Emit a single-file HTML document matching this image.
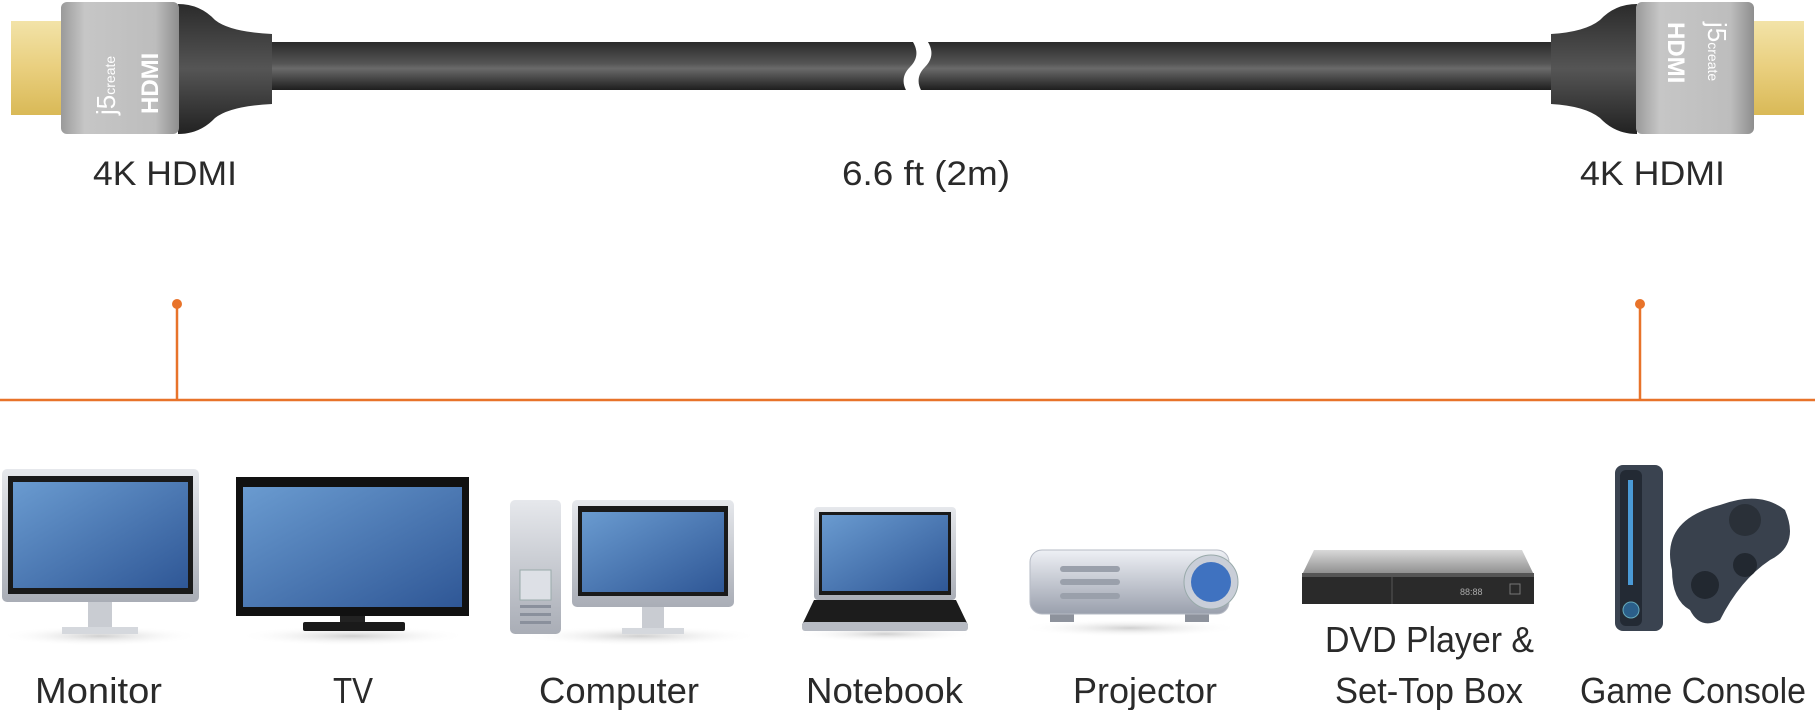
<!DOCTYPE html>
<html><head><meta charset="utf-8"><style>
html,body{margin:0;padding:0;background:#fff;}
svg{display:block;}
text{font-family:"Liberation Sans",sans-serif;fill:#2a2a2a;}
</style></head><body>
<svg width="1815" height="710" viewBox="0 0 1815 710" xmlns="http://www.w3.org/2000/svg">
<defs>
<linearGradient id="cab" x1="0" y1="0" x2="0" y2="1"><stop offset="0" stop-color="#2a2a2a"/><stop offset="0.45" stop-color="#555"/><stop offset="0.55" stop-color="#6a6a6a"/><stop offset="1" stop-color="#1e1e1e"/></linearGradient>
<linearGradient id="gold" x1="0" y1="0" x2="0" y2="1"><stop offset="0" stop-color="#f2e3a8"/><stop offset="0.5" stop-color="#e9cf7e"/><stop offset="1" stop-color="#d9b957"/></linearGradient>
<linearGradient id="silv" x1="0" y1="0" x2="1" y2="0"><stop offset="0" stop-color="#9a9a9a"/><stop offset="0.2" stop-color="#c6c6c6"/><stop offset="0.8" stop-color="#bdbdbd"/><stop offset="1" stop-color="#8e8e8e"/></linearGradient>
<linearGradient id="boot" x1="0" y1="0" x2="0" y2="1"><stop offset="0" stop-color="#2b2b2b"/><stop offset="0.5" stop-color="#555"/><stop offset="1" stop-color="#222"/></linearGradient>
<linearGradient id="scr" x1="0" y1="0" x2="1" y2="1"><stop offset="0" stop-color="#6a9bd0"/><stop offset="1" stop-color="#2f5796"/></linearGradient>
<linearGradient id="frame" x1="0" y1="0" x2="0" y2="1"><stop offset="0" stop-color="#e6e8ec"/><stop offset="1" stop-color="#a9adb6"/></linearGradient>
<linearGradient id="proj" x1="0" y1="0" x2="0" y2="1"><stop offset="0" stop-color="#eef0f5"/><stop offset="1" stop-color="#9aa0ad"/></linearGradient>
<linearGradient id="dvdtop" x1="0" y1="0" x2="0" y2="1"><stop offset="0" stop-color="#d9d9d9"/><stop offset="1" stop-color="#8a8a8a"/></linearGradient>
<radialGradient id="sh"><stop offset="0" stop-color="#bbb" stop-opacity="0.7"/><stop offset="1" stop-color="#fff" stop-opacity="0"/></radialGradient>
</defs>

<rect x="265" y="42" width="1300" height="48" fill="url(#cab)"/>
<path d="M905 32 Q925 52 910 67 Q895 82 915 102 L930 102 Q910 82 925 67 Q940 52 920 32Z" fill="#fff"/>

<rect x="11" y="21" width="52" height="94" fill="url(#gold)"/>
<path d="M178 4 Q200 4 215 20 Q230 32 272 34 L272 104 Q230 106 215 118 Q200 134 178 134Z" fill="url(#boot)"/>
<rect x="61" y="2" width="118" height="132" rx="6" fill="url(#silv)"/>
<text transform="translate(115,115) rotate(-90)" font-size="26" style="fill:#fff">j5<tspan font-size="14">create</tspan></text>
<text transform="translate(158,114) rotate(-90)" font-size="24" font-weight="bold" style="fill:#fff">HDMI</text>

<rect x="1752" y="21" width="52" height="94" fill="url(#gold)"/>
<path d="M1637 4 Q1615 4 1600 20 Q1585 32 1551 34 L1551 104 Q1585 106 1600 118 Q1615 134 1637 134Z" fill="url(#boot)"/>
<rect x="1636" y="2" width="118" height="132" rx="6" fill="url(#silv)"/>
<text transform="translate(1668,22) rotate(90)" font-size="24" font-weight="bold" style="fill:#fff">HDMI</text>
<text transform="translate(1708,22) rotate(90)" font-size="26" style="fill:#fff">j5<tspan font-size="14">create</tspan></text>

<text x="93" y="185" font-size="34" textLength="144" lengthAdjust="spacingAndGlyphs">4K HDMI</text>
<text x="842" y="185" font-size="34" textLength="168" lengthAdjust="spacingAndGlyphs">6.6 ft (2m)</text>
<text x="1580" y="185" font-size="34" textLength="145" lengthAdjust="spacingAndGlyphs">4K HDMI</text>

<g stroke="#e8732a" stroke-width="2.5" fill="#e8732a">
<line x1="0" y1="400" x2="1815" y2="400"/>
<line x1="177" y1="304" x2="177" y2="400"/>
<line x1="1640" y1="304" x2="1640" y2="400"/>
<circle cx="177" cy="304" r="5" stroke="none"/>
<circle cx="1640" cy="304" r="5" stroke="none"/>
</g>

<ellipse cx="100" cy="636" rx="100" ry="10" fill="url(#sh)"/>
<rect x="2" y="469" width="197" height="133" rx="5" fill="url(#frame)"/>
<rect x="8" y="476" width="185" height="118" fill="#1a1a1a"/>
<rect x="13" y="482" width="175" height="106" fill="url(#scr)"/>
<rect x="88" y="602" width="24" height="28" fill="#c9ccd2"/>
<rect x="62" y="627" width="76" height="7" fill="#d5d8dd"/>

<ellipse cx="353" cy="636" rx="115" ry="10" fill="url(#sh)"/>
<rect x="236" y="477" width="233" height="139" fill="#111"/>
<rect x="243" y="487" width="219" height="120" fill="url(#scr)"/>
<rect x="340" y="616" width="25" height="8" fill="#222"/>
<rect x="303" y="622" width="102" height="9" rx="2" fill="#1a1a1a"/>

<ellipse cx="640" cy="636" rx="120" ry="10" fill="url(#sh)"/>
<rect x="510" y="500" width="51" height="134" rx="5" fill="url(#frame)"/>
<rect x="520" y="570" width="31" height="30" fill="#dde0e6" stroke="#9aa" stroke-width="1"/>
<g fill="#8a909c"><rect x="520" y="605" width="31" height="3"/><rect x="520" y="613" width="31" height="3"/><rect x="520" y="621" width="31" height="3"/></g>
<rect x="572" y="500" width="162" height="107" rx="5" fill="url(#frame)"/>
<rect x="578" y="506" width="150" height="90" fill="#1a1a1a"/>
<rect x="582" y="512" width="142" height="80" fill="url(#scr)"/>
<rect x="642" y="607" width="22" height="24" fill="#c9ccd2"/>
<rect x="622" y="628" width="62" height="6" fill="#d5d8dd"/>

<ellipse cx="885" cy="634" rx="90" ry="8" fill="url(#sh)"/>
<rect x="814" y="507" width="142" height="93" rx="4" fill="url(#frame)"/>
<rect x="819" y="512" width="132" height="83" fill="#1a1a1a"/>
<rect x="822" y="515" width="126" height="76" fill="url(#scr)"/>
<path d="M814 600 L956 600 L968 625 L802 625Z" fill="#1c1c1c"/>
<rect x="802" y="622" width="166" height="9" rx="3" fill="#b7bbc3"/>

<ellipse cx="1130" cy="628" rx="110" ry="9" fill="url(#sh)"/>
<rect x="1050" y="612" width="24" height="10" fill="#8d929c"/>
<rect x="1185" y="612" width="24" height="10" fill="#8d929c"/>
<rect x="1030" y="550" width="199" height="64" rx="12" fill="url(#proj)" stroke="#b6bbc5"/>
<g fill="#9aa0ab"><rect x="1060" y="566" width="60" height="6" rx="3"/><rect x="1060" y="579" width="60" height="6" rx="3"/><rect x="1060" y="593" width="60" height="6" rx="3"/></g>
<circle cx="1211" cy="582" r="27" fill="#c9ced8" stroke="#9aa" />
<circle cx="1211" cy="582" r="20" fill="#3f72c0"/>

<path d="M1314 550 L1522 550 L1534 575 L1302 575Z" fill="url(#dvdtop)"/>
<rect x="1302" y="575" width="232" height="29" fill="#2a2a2a"/>
<rect x="1302" y="573" width="232" height="4" fill="#555"/>
<line x1="1392" y1="577" x2="1392" y2="604" stroke="#555"/>
<text x="1460" y="595" font-size="9" style="fill:#aaa">88:88</text>
<rect x="1510" y="584" width="10" height="10" fill="none" stroke="#777"/>

<rect x="1615" y="465" width="48" height="166" rx="8" fill="#3a4350"/>
<rect x="1620" y="470" width="22" height="156" rx="6" fill="#232a34"/>
<rect x="1628" y="480" width="5" height="105" fill="#4a9ad6"/>
<circle cx="1631" cy="610" r="8" fill="#2b5f8a" stroke="#6ab" />
<path d="M1672 570 Q1660 520 1720 505 Q1760 490 1785 510 Q1800 545 1770 560 Q1740 580 1720 620 Q1700 630 1690 610 Q1672 600 1672 570Z" fill="#39414d"/>
<circle cx="1745" cy="520" r="16" fill="#2a3038"/>
<circle cx="1705" cy="585" r="14" fill="#222830"/>
<circle cx="1745" cy="565" r="12" fill="#222830"/>

<g font-size="36">
<text x="35" y="703" textLength="127" lengthAdjust="spacingAndGlyphs">Monitor</text>
<text x="333" y="703" textLength="40" lengthAdjust="spacingAndGlyphs">TV</text>
<text x="539" y="703" textLength="160" lengthAdjust="spacingAndGlyphs">Computer</text>
<text x="806" y="703" textLength="157" lengthAdjust="spacingAndGlyphs">Notebook</text>
<text x="1073" y="703" textLength="144" lengthAdjust="spacingAndGlyphs">Projector</text>
<text x="1325" y="652" textLength="209" lengthAdjust="spacingAndGlyphs">DVD Player &amp;</text>
<text x="1335" y="703" textLength="188" lengthAdjust="spacingAndGlyphs">Set-Top Box</text>
<text x="1580" y="703" textLength="226" lengthAdjust="spacingAndGlyphs">Game Console</text>
</g>
</svg>
</body></html>
